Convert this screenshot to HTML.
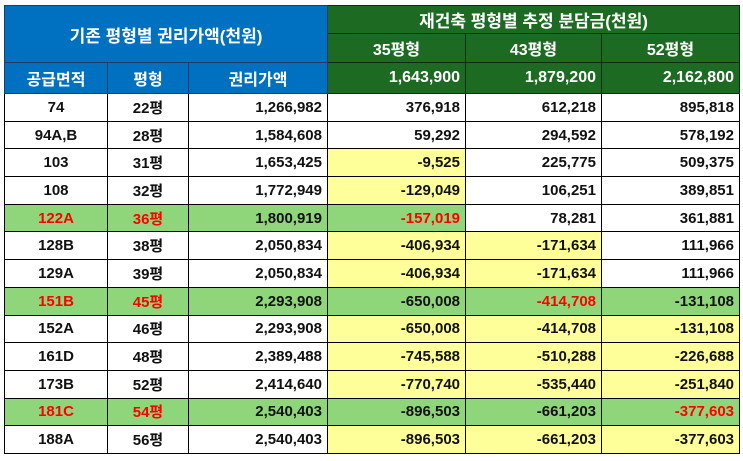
<!DOCTYPE html><html><head><meta charset="utf-8"><style>
body{margin:0;width:743px;height:461px;background:#fff;overflow:hidden;font-family:"Liberation Sans","Noto Sans CJK KR",sans-serif;}
table{position:absolute;left:4px;top:5px;border-collapse:collapse;table-layout:fixed;}
td{border:1px solid #000;font-size:15px;font-weight:bold;padding:0 5px;height:26.7px;text-align:center;color:#111;white-space:nowrap;overflow:hidden;}
td.r{text-align:right;}
.b{background:#0070c0;color:#fff;border-color:#1d3c6b;font-size:16px;}
.g{background:#1d6b22;color:#fff;border-color:#0c2f0e;font-size:16px;}
.y{background:#ffff99;}
.L{background:#8fd67a;}
.red{color:#f00;}
</style></head><body>
<table>
<colgroup><col style="width:103px"><col style="width:81px"><col style="width:139px"><col style="width:138px"><col style="width:136px"><col style="width:138px"></colgroup>
<tr><td class="b" rowspan="2" colspan="3" style="font-size:17px;height:56px">기존 평형별 권리가액(천원)</td><td class="g" colspan="3" style="height:27px;font-size:17px">재건축 평형별 추정 분담금(천원)</td></tr>
<tr><td class="g" style="height:28px">35평형</td><td class="g">43평형</td><td class="g">52평형</td></tr>
<tr><td class="b" style="height:30px">공급면적</td><td class="b">평형</td><td class="b">권리가액</td><td class="g r">1,643,900</td><td class="g r">1,879,200</td><td class="g r">2,162,800</td></tr>
<tr><td>74</td><td>22평</td><td class="r">1,266,982</td><td class="r">376,918</td><td class="r">612,218</td><td class="r">895,818</td></tr>
<tr><td>94A,B</td><td>28평</td><td class="r">1,584,608</td><td class="r">59,292</td><td class="r">294,592</td><td class="r">578,192</td></tr>
<tr><td>103</td><td>31평</td><td class="r">1,653,425</td><td class="r y">-9,525</td><td class="r">225,775</td><td class="r">509,375</td></tr>
<tr><td>108</td><td>32평</td><td class="r">1,772,949</td><td class="r y">-129,049</td><td class="r">106,251</td><td class="r">389,851</td></tr>
<tr><td class="L red">122A</td><td class="L red">36평</td><td class="r L">1,800,919</td><td class="r L red">-157,019</td><td class="r">78,281</td><td class="r">361,881</td></tr>
<tr><td>128B</td><td>38평</td><td class="r">2,050,834</td><td class="r y">-406,934</td><td class="r y">-171,634</td><td class="r">111,966</td></tr>
<tr><td>129A</td><td>39평</td><td class="r">2,050,834</td><td class="r y">-406,934</td><td class="r y">-171,634</td><td class="r">111,966</td></tr>
<tr><td class="L red">151B</td><td class="L red">45평</td><td class="r L">2,293,908</td><td class="r L">-650,008</td><td class="r L red">-414,708</td><td class="r L">-131,108</td></tr>
<tr><td>152A</td><td>46평</td><td class="r">2,293,908</td><td class="r y">-650,008</td><td class="r y">-414,708</td><td class="r y">-131,108</td></tr>
<tr><td>161D</td><td>48평</td><td class="r">2,389,488</td><td class="r y">-745,588</td><td class="r y">-510,288</td><td class="r y">-226,688</td></tr>
<tr><td>173B</td><td>52평</td><td class="r">2,414,640</td><td class="r y">-770,740</td><td class="r y">-535,440</td><td class="r y">-251,840</td></tr>
<tr><td class="L red">181C</td><td class="L red">54평</td><td class="r L">2,540,403</td><td class="r L">-896,503</td><td class="r L">-661,203</td><td class="r L red">-377,603</td></tr>
<tr><td>188A</td><td>56평</td><td class="r">2,540,403</td><td class="r y">-896,503</td><td class="r y">-661,203</td><td class="r y">-377,603</td></tr>
</table>
</body></html>
